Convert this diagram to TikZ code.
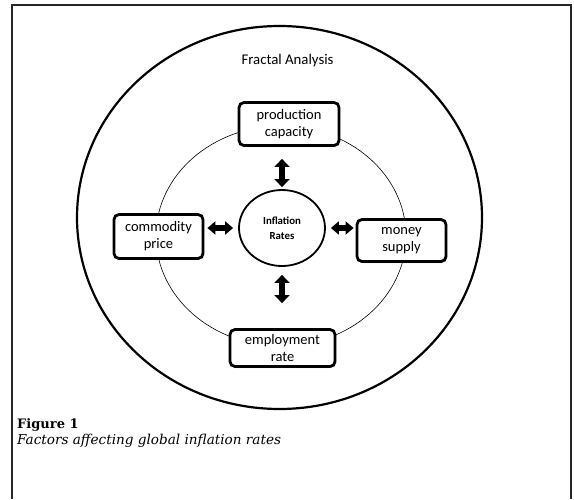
\documentclass[tikz,border=0pt]{standalone}
\usepackage{fontspec}
\usetikzlibrary{shapes.geometric,arrows.meta,shadows}
\newfontfamily\carlito{Carlito}
\newfontfamily\capserif{DejaVu Serif}
\tikzset{
  factor/.style 2 args={draw, line width=2.8pt, rounded corners=5pt, fill=white,
    minimum width=#1, minimum height=#2, inner sep=0pt, align=center,
    font=\carlito\fontsize{14.5}{17}\selectfont,
    drop shadow={shadow xshift=1.2pt, shadow yshift=-1.5pt, opacity=0.35}},
  core/.style={draw, ellipse, line width=1.8pt, fill=white, inner sep=0pt,
    minimum width=86pt, minimum height=76pt, align=center,
    font=\carlito\bfseries\fontsize{10.8}{15}\selectfont},
  dblarrow/.style 2 args={line width=#2,
    {Triangle[width=#1,length=8pt]}-{Triangle[width=#1,length=8pt]}},
  lbl/.style={inner sep=0pt},
}
\begin{document}
\begin{tikzpicture}[x=1pt,y=-1pt]
\useasboundingbox (0,0) rectangle (574,499);
% frame (open at the bottom)
\draw[line width=2pt, color=black!85] (12,499) -- (12,5) -- (571,5) -- (571,499);
% outer circle
\draw[line width=2.2pt] (279.5,217.5) ellipse [x radius=202.5pt, y radius=191.5pt];
\node[lbl, font=\carlito\fontsize{14.8}{17}\selectfont] (fa) at (287.5,61) {Fractal Analysis};
% inner thin circle
\draw[line width=0.6pt] (281,236) ellipse [x radius=125pt, y radius=110pt];
% nodes
\node[core] (infl) at (282,228) {Inflation\\Rates};
\node[factor={100pt}{43pt}] (prod) at (289,124) {production\\capacity};
\node[factor={89pt}{44pt}] (comm) at (158.5,236.5) {commodity\\price};
\node[factor={89pt}{42pt}] (money) at (401.5,240.5) {money\\supply};
\node[factor={105pt}{37pt}] (empl) at (282.5,348) {employment\\rate};
% arrows
\draw[dblarrow={15pt}{5.5pt}, shorten <=12pt, shorten >=2pt] (prod.south -| infl.north) -- (infl.north);
\draw[dblarrow={15pt}{5.5pt}, shorten <=8pt, shorten >=25pt] (infl.south) -- (empl.north -| infl.south);
\draw[dblarrow={13pt}{5.5pt}, shorten <=3pt, shorten >=5pt] (comm.east |- infl.west) -- (infl.west);
\draw[dblarrow={13pt}{5.5pt}, shorten <=5pt, shorten >=2pt] (infl.east) -- (money.west |- infl.east);
% caption
\node[lbl, anchor=base west, font=\capserif\bfseries\fontsize{13}{15}\selectfont] (fig) at (17,428) {Figure 1};
\node[lbl, anchor=base west, font=\capserif\itshape\fontsize{13.6}{15}\selectfont] (cap) at (17,444) {Factors affecting global inflation rates};
\end{tikzpicture}
\end{document}
